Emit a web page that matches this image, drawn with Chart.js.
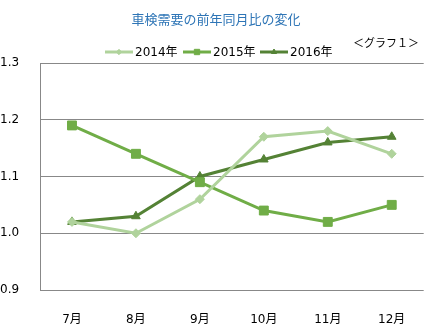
<!DOCTYPE html>
<html>
<head>
<meta charset="utf-8">
<script src="https://cdn.jsdelivr.net/npm/chart.js@4"></script>
<style>
  html, body { margin: 0; padding: 0; background: #fff; overflow: hidden; }
  #wrap { width: 431px; height: 329px; position: relative; overflow: hidden; }
  canvas { display: block; }
</style>
</head>
<body>
<div id="wrap"><canvas id="chart"></canvas></div>
<script>
'use strict';

// ── Data ────────────────────────────────────────────────────────
const MONTHS = ['7月', '8月', '9月', '10月', '11月', '12月'];
const SERIES_NAMES = ['2014年', '2015年', '2016年'];
const VALUES_2014 = [1.02, 1.00, 1.06, 1.17, 1.18, 1.14];
const VALUES_2015 = [1.19, 1.14, 1.09, 1.04, 1.02, 1.05];
const VALUES_2016 = [1.02, 1.03, 1.10, 1.13, 1.16, 1.17];
const Y_MIN = 0.9;
const Y_MAX = 1.3;
const Y_STEP = 0.1;

const TITLE = '車検需要の前年同月比の変化';
const NOTE = '＜グラフ１＞';

// ── Theme ───────────────────────────────────────────────────────
const COLORS = {
  s2014: '#b0d39c',
  s2015: '#70ad47',
  s2016: '#548235',
  grid:  '#888888',
  text:  '#000000',
  title: '#2e75b6'
};
const FONT = '"DejaVu Sans", "Noto Sans CJK JP", sans-serif';
const JP_FONT = '"Noto Sans CJK JP", sans-serif';

// ── Header plugin: title, note and line+marker legend ──────────
const headerPlugin = {
  id: 'header',
  afterDraw(chart) {
    const ctx = chart.ctx;
    ctx.save();
    ctx.textBaseline = 'middle';

    ctx.font = '13px ' + JP_FONT;
    ctx.fillStyle = COLORS.title;
    ctx.textAlign = 'center';
    ctx.fillText(TITLE, 216, 19);

    ctx.font = '11px ' + JP_FONT;
    ctx.fillStyle = COLORS.text;
    ctx.textAlign = 'left';
    ctx.fillText(NOTE, 353, 43);

    const starts = [105, 183, 260];
    chart.data.datasets.forEach((ds, i) => {
      const x0 = starts[i];
      const y = 52;
      ctx.strokeStyle = ds.borderColor;
      ctx.fillStyle = ds.borderColor;
      ctx.lineWidth = 3;
      ctx.beginPath();
      ctx.moveTo(x0, y);
      ctx.lineTo(x0 + 28, y);
      ctx.stroke();
      ctx.lineWidth = 1;
      Chart.helpers.drawPoint(ctx, {
        pointStyle: ds.pointStyle,
        radius: ds.pointRadius * 0.6,
        rotation: 0,
        borderWidth: 1
      }, x0 + 14, y);
      ctx.fillStyle = COLORS.text;
      ctx.font = '12px ' + FONT;
      ctx.fillText(ds.label, x0 + 30, y + 1);
    });
    ctx.restore();
  }
};

// ── Chart ───────────────────────────────────────────────────────
function makeSet(label, data, color, style, radius) {
  return {
    label: label,
    data: data,
    borderColor: color,
    backgroundColor: color,
    borderWidth: 3,
    pointStyle: style,
    pointRadius: radius,
    pointBorderWidth: 1,
    pointBorderColor: color,
    pointBackgroundColor: color,
    tension: 0
  };
}

new Chart(document.getElementById('chart'), {
  type: 'line',
  data: {
    labels: MONTHS,
    datasets: [
      makeSet(SERIES_NAMES[0], VALUES_2014, COLORS.s2014, 'rectRot', 4.5),
      makeSet(SERIES_NAMES[1], VALUES_2015, COLORS.s2015, 'rect', 6.3),
      makeSet(SERIES_NAMES[2], VALUES_2016, COLORS.s2016, 'triangle', 5)
    ]
  },
  options: {
    responsive: true,
    maintainAspectRatio: false,
    animation: false,
    layout: { padding: { top: 63, right: 0, left: 0, bottom: 0 } },
    plugins: {
      legend: { display: false },
      title: { display: false },
      tooltip: { enabled: false }
    },
    scales: {
      x: {
        offset: true,
        grid: { display: false },
        border: { display: false },
        ticks: { color: COLORS.text, font: { family: FONT, size: 12 }, padding: 15, maxRotation: 0 },
        afterFit(scale) { scale.height = 39; }
      },
      y: {
        min: Y_MIN,
        max: Y_MAX,
        grid: { color: COLORS.grid, tickLength: 0 },
        border: { display: true, color: COLORS.grid, width: 1 },
        ticks: {
          stepSize: Y_STEP,
          color: COLORS.text,
          font: { family: FONT, size: 12 },
          crossAlign: 'far',
          padding: 4,
          callback: v => Number(v).toFixed(1)
        },
        afterFit(scale) { scale.width = 40; }
      }
    }
  },
  plugins: [headerPlugin]
});
</script>
</body>
</html>
